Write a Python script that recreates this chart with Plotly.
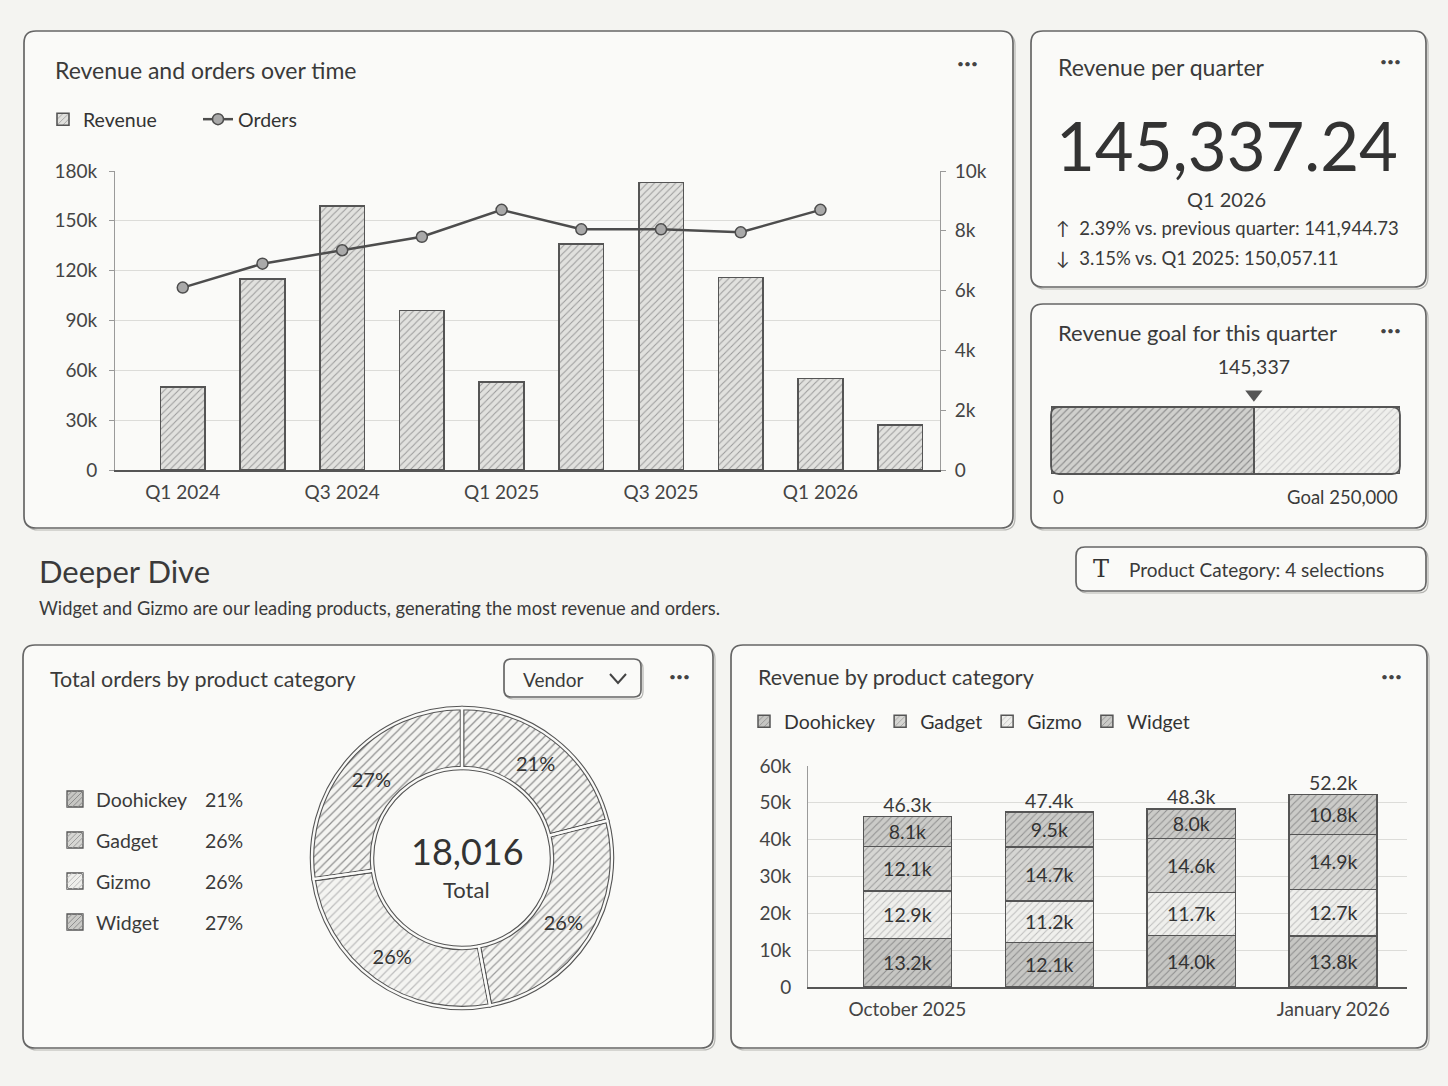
import plotly.graph_objects as go

W, H = 1448, 1086

# ---------------- data ----------------
quarters = ['Q1 2024', 'Q2 2024', 'Q3 2024', 'Q4 2024', 'Q1 2025',
            'Q2 2025', 'Q3 2025', 'Q4 2025', 'Q1 2026', 'Q2 2026']
revenue = [50000, 115000, 159000, 96000, 53000, 136000, 173000, 116000, 55000, 27000]
orders = [6100, 6900, 7350, 7800, 8700, 8050, 8050, 7950, 8700, None]
quarter_ticks = ['Q1 2024', 'Q3 2024', 'Q1 2025', 'Q3 2025', 'Q1 2026']
rev_ticks = [0, 30000, 60000, 90000, 120000, 150000, 180000]
ord_ticks = [0, 2000, 4000, 6000, 8000, 10000]

kpi_value = 145337.24
kpi_period = 'Q1 2026'
prev_quarter_value = 141944.73
prev_quarter_change = 2.39
prev_year_label = 'Q1 2025'
prev_year_value = 150057.11
prev_year_change = 3.15
goal_target = 250000

categories = ['Doohickey', 'Gadget', 'Gizmo', 'Widget']
category_orders = [3784, 4685, 4636, 4911]

months = ['October 2025', 'November 2025', 'December 2025', 'January 2026']
month_ticks = ['October 2025', 'January 2026']
rev_doohickey = [13.2, 12.1, 14.0, 13.8]
rev_gizmo = [12.9, 11.2, 11.7, 12.7]
rev_gadget = [12.1, 14.7, 14.6, 14.9]
rev_widget = [8.1, 9.5, 8.0, 10.8]
rev_totals = [46.3, 47.4, 48.3, 52.2]
stack_ticks = [0, 10, 20, 30, 40, 50, 60]
stack_ticktext = ['0', '10k', '20k', '30k', '40k', '50k', '60k']

# ---------------- style ----------------
FONT = 'Lato'
INK = '#3a3a3a'
BG = '#f4f4f1'
CARD = '#fafaf8'
EDGE = '#666666'
cat_fill = {'Doohickey': '#c6c6c3', 'Gadget': '#d6d6d3', 'Gizmo': '#efefec', 'Widget': '#cbcbc8'}
cat_hatch = {'Doohickey': '#8c8c8c', 'Gadget': '#9c9c9c', 'Gizmo': '#bdbdbd', 'Widget': '#8f8f8f'}


def px(x):
    return x / W


def py(y):
    return 1 - y / H


def rrect(x0, y0, x1, y1, r):
    pts = [
        f"M {px(x0 + r)},{py(y0)}",
        f"L {px(x1 - r)},{py(y0)}",
        f"Q {px(x1)},{py(y0)} {px(x1)},{py(y0 + r)}",
        f"L {px(x1)},{py(y1 - r)}",
        f"Q {px(x1)},{py(y1)} {px(x1 - r)},{py(y1)}",
        f"L {px(x0 + r)},{py(y1)}",
        f"Q {px(x0)},{py(y1)} {px(x0)},{py(y1 - r)}",
        f"L {px(x0)},{py(y0 + r)}",
        f"Q {px(x0)},{py(y0)} {px(x0 + r)},{py(y0)}",
        "Z",
    ]
    return ' '.join(pts)


shapes = []


def card(x0, y0, x1, y1, r=12, fill=CARD, width=1.7, layer='below'):
    shapes.append(dict(type='path', path=rrect(x0 + 2, y0 + 2, x1 + 2, y1 + 2, r), xref='paper', yref='paper',
                       line=dict(color='#b5b5b2', width=1.2), fillcolor='rgba(0,0,0,0)', layer=layer))
    shapes.append(dict(type='path', path=rrect(x0, y0, x1, y1, r), xref='paper', yref='paper',
                       line=dict(color=EDGE, width=width), fillcolor=fill, layer=layer))


card(24, 31, 1013, 528)
card(1031, 31, 1426, 287)
card(1031, 304, 1426, 528)
card(1076, 547, 1426, 591, r=9)
card(23, 645, 713, 1048)
card(731, 645, 1427, 1048)
card(504, 659, 641, 697, r=7)
# dropdown chevron
shapes.append(dict(type='path', path=f"M {px(610)},{py(674)} L {px(618)},{py(683)} L {px(626)},{py(674)}",
                   xref='paper', yref='paper', line=dict(color='#444', width=2)))
# goal bar outline
shapes.append(dict(type='path', path=rrect(1051, 407, 1400, 474, 8), xref='paper', yref='paper',
                   line=dict(color='#555', width=1.8), fillcolor='rgba(0,0,0,0)', layer='above'))


def swatch(x0, y0, s, fill, hatch):
    # small hatched legend square
    shapes.append(dict(type='rect', x0=px(x0), x1=px(x0 + s), y0=py(y0 + s), y1=py(y0), xref='paper',
                       yref='paper', fillcolor=fill, line=dict(color='#555', width=1.3)))
    segs = []
    for k in range(1, 6):
        d = k * s / 3.0
        if d <= s:
            sx0, sy0, sx1, sy1 = x0, y0 + d, x0 + d, y0
        else:
            sx0, sy0, sx1, sy1 = x0 + d - s, y0 + s, x0 + s, y0 + d - s
        if d < 2 * s:
            segs.append(f"M {px(sx0)},{py(sy0)} L {px(sx1)},{py(sy1)}")
    shapes.append(dict(type='path', path=' '.join(segs), xref='paper', yref='paper',
                       line=dict(color=hatch, width=1)))


annotations = []


def text(x, y, s, size, anchor='left', color=INK, family=FONT, yanchor='middle'):
    annotations.append(dict(x=px(x), y=py(y), xref='paper', yref='paper', text=s, showarrow=False,
                            xanchor=anchor, yanchor=yanchor, font=dict(family=family, size=size, color=color)))


# titles
text(53, 70, 'Revenue and orders over time', 23)
text(968, 64, '•••', 12, 'center', '#444')
text(1056, 67, 'Revenue per quarter', 23)
text(1390, 62, '•••', 12, 'center', '#444')
text(1056, 332, 'Revenue goal for this quarter', 22)
text(1390, 330, '•••', 12, 'center', '#444')
text(37, 571, 'Deeper Dive', 31)
text(37, 608, 'Widget and Gizmo are our leading products, generating the most revenue and orders.', 18.3)
text(1101, 569, 'T', 24, 'center', '#333', 'DejaVu Serif')
text(1127, 569, 'Product Category: 4 selections', 19)
text(48, 679, 'Total orders by product category', 21.5)
text(553, 679, 'Vendor', 19, 'center')
text(679, 676, '•••', 12, 'center', '#444')
text(756, 677, 'Revenue by product category', 21.5)
text(1391, 676, '•••', 12, 'center', '#444')

# KPI
text(1227, 145, f"{kpi_value:,.2f}", 67, 'center', '#333')
text(1226, 199, kpi_period, 20, 'center')
text(1054, 228, f"↑  {prev_quarter_change:.2f}% vs. previous quarter: {prev_quarter_value:,.2f}", 18.5)
text(1054, 258, f"↓  {prev_year_change:.2f}% vs. {prev_year_label}: {prev_year_value:,.2f}", 18.5)

# donut center
total_orders = sum(category_orders)
text(467, 851, f"{total_orders:,}", 36, 'center', '#333')
text(466, 889, 'Total', 22, 'center')

# donut legend (rows of swatch, name, percentage)
leg_rows = [799, 840, 881, 922]
for r, c, v in zip(leg_rows, categories, category_orders):
    swatch(67, r - 8, 16, cat_fill[c], cat_hatch[c])
    text(94, r, c, 19.5)
    text(203, r, f"{round(v / total_orders * 100)}%", 19.5)

fig = go.Figure()

# ---------- top chart ----------
fig.add_trace(go.Bar(
    x=quarters, y=revenue, name='Revenue', width=0.56, xaxis='x', yaxis='y', legend='legend',
    marker=dict(color='#e1e1de', line=dict(color='#555', width=1.6),
                pattern=dict(shape='/', fgcolor='#9a9a9a', bgcolor='#e1e1de', size=5, solidity=0.2)),
))
fig.add_trace(go.Scatter(
    x=quarters, y=orders, name='Orders', mode='lines+markers', xaxis='x', yaxis='y2', legend='legend',
    line=dict(color='#4d4d4d', width=2.5),
    marker=dict(size=11, color='#a9a9a9', line=dict(color='#4d4d4d', width=1.5)),
))

# ---------- goal bar ----------
fig.add_trace(go.Bar(
    x=[kpi_value], y=[0], orientation='h', width=1, xaxis='x3', yaxis='y3', showlegend=False,
    marker=dict(color='#d0d0cd', line=dict(color='#555', width=1.5),
                pattern=dict(shape='/', fgcolor='#8e8e8e', bgcolor='#d0d0cd', size=5, solidity=0.22)),
))
fig.add_trace(go.Bar(
    x=[goal_target - kpi_value], y=[0], orientation='h', width=1, xaxis='x3', yaxis='y3', showlegend=False,
    marker=dict(color='#efefec', line=dict(color='#555', width=1.5),
                pattern=dict(shape='/', fgcolor='#c6c6c6', bgcolor='#efefec', size=5, solidity=0.18)),
))
fig.add_trace(go.Scatter(
    x=[kpi_value], y=[0.69], mode='markers', xaxis='x3', yaxis='y3', showlegend=False,
    marker=dict(symbol='triangle-down', size=15, color='#555'),
))
fig.add_trace(go.Scatter(
    x=[kpi_value], y=[1.07], mode='text', text=[f"{kpi_value:,.0f}"], xaxis='x3', yaxis='y3',
    showlegend=False, textfont=dict(family=FONT, size=19.5, color=INK),
))
annotations.append(dict(x=0, y=-0.5, xref='x3', yref='y3', text='0', showarrow=False, xanchor='left',
                        yanchor='top', yshift=-10, font=dict(family=FONT, size=18.5, color=INK)))
annotations.append(dict(x=goal_target, y=-0.5, xref='x3', yref='y3', text=f"Goal {goal_target:,}",
                        showarrow=False, xanchor='right', yanchor='top', yshift=-10,
                        font=dict(family=FONT, size=18.5, color=INK)))

# ---------- donut ----------
pie_domain = dict(x=[px(312), px(612)], y=[py(1008), py(708)])
fig.add_trace(go.Pie(
    labels=categories, values=category_orders, hole=0.6, sort=False, direction='clockwise', rotation=0,
    domain=pie_domain, showlegend=False,
    marker=dict(colors=[cat_fill[c] for c in categories], line=dict(color='#555', width=4.5),
                pattern=dict(shape='/', fgcolor=[cat_hatch[c] for c in categories],
                             size=6, solidity=0.2)),
    textinfo='percent', texttemplate='%{percent:.0%}', textposition='inside',
    insidetextorientation='horizontal', textfont=dict(family=FONT, size=20, color='#333'),
))
fig.add_trace(go.Pie(
    labels=categories, values=category_orders, hole=0.6, sort=False, direction='clockwise', rotation=0,
    domain=pie_domain, showlegend=False, textinfo='none', hoverinfo='skip',
    marker=dict(colors=['rgba(0,0,0,0)'] * 4, line=dict(color=CARD, width=2.3)),
))

# ---------- stacked bars ----------
stack = [('Doohickey', rev_doohickey, 1), ('Gizmo', rev_gizmo, 3), ('Gadget', rev_gadget, 2), ('Widget', rev_widget, 4)]
for name, vals, rank in stack:
    fig.add_trace(go.Bar(
        x=months, y=vals, name=name, width=0.62, xaxis='x4', yaxis='y4', legend='legend2', legendrank=rank,
        marker=dict(color=cat_fill[name], line=dict(color='#555', width=1.5),
                    pattern=dict(shape='/', fgcolor=cat_hatch[name], bgcolor=cat_fill[name], size=5, solidity=0.2)),
        texttemplate='%{y:.1f}k', textposition='inside', insidetextanchor='middle', textangle=0,
        textfont=dict(family=FONT, size=19.5, color='#333'), constraintext='none',
    ))
fig.add_trace(go.Scatter(
    x=months, y=rev_totals, mode='text', text=[f"{v:.1f}k" for v in rev_totals], textposition='top center',
    xaxis='x4', yaxis='y4', showlegend=False, textfont=dict(family=FONT, size=19.5, color=INK),
))

tickfont = dict(family=FONT, size=19, color='#444')
leg_font = dict(family=FONT, size=19.5, color='#333')

fig.update_layout(
    template='none',
    width=W, height=H, autosize=False,
    margin=dict(l=0, r=0, t=0, b=0, pad=0, autoexpand=False),
    paper_bgcolor=BG, plot_bgcolor='rgba(0,0,0,0)',
    font=dict(family=FONT, color=INK),
    barmode='stack',
    xaxis=dict(domain=[px(115), px(940)], anchor='y', type='category', range=[-0.85, 9.5],
               tickvals=quarter_ticks, showline=True, linecolor='#555', linewidth=2, showgrid=False,
               tickfont=tickfont, ticks='', automargin=False, zeroline=False, ticklabelstandoff=4),
    yaxis=dict(domain=[py(470), py(171)], range=[0, 180000], tickvals=rev_ticks, tickformat='~s',
               gridcolor='#dcdcd9', gridwidth=1, showline=True, linecolor='#9a9a9a', ticks='outside',
               ticklen=5, tickcolor='#9a9a9a', zeroline=False, tickfont=tickfont, automargin=False,
               ticklabelstandoff=8),
    yaxis2=dict(overlaying='y', side='right', anchor='x', range=[0, 10000], tickvals=ord_ticks, tickformat='~s',
                showgrid=False, showline=True, linecolor='#9a9a9a', ticks='outside', ticklen=5,
                tickcolor='#9a9a9a', zeroline=False, tickfont=tickfont, automargin=False,
                ticklabelstandoff=5),
    xaxis3=dict(domain=[px(1051), px(1400)], anchor='y3', range=[0, goal_target], visible=False,
                automargin=False),
    yaxis3=dict(domain=[py(474), py(355)], anchor='x3', range=[-0.5, 1.276], visible=False, automargin=False),
    xaxis4=dict(domain=[px(808), px(1407)], anchor='y4', type='category', range=[-0.7, 3.52],
                tickvals=month_ticks, showline=True, linecolor='#555', linewidth=2, showgrid=False,
                tickfont=tickfont, ticks='', automargin=False, zeroline=False, ticklabelstandoff=4),
    yaxis4=dict(domain=[py(987), py(766)], anchor='x4', range=[0, 60], tickvals=stack_ticks,
                ticktext=stack_ticktext, gridcolor='#dcdcd9', showline=True, linecolor='#9a9a9a',
                zeroline=False, tickfont=tickfont, automargin=False, ticks='', ticklabelstandoff=12),
    legend=dict(x=px(43), y=py(100), xanchor='left', yanchor='top', orientation='h', font=leg_font,
                bgcolor='rgba(0,0,0,0)', traceorder='normal', entrywidth=110, entrywidthmode='pixels'),
    legend2=dict(x=px(744), y=py(702), xanchor='left', yanchor='top', orientation='h', font=leg_font,
                 bgcolor='rgba(0,0,0,0)', traceorder='normal'),
    shapes=shapes,
    annotations=annotations,
    showlegend=True,
)

fig.write_html('out.html')
